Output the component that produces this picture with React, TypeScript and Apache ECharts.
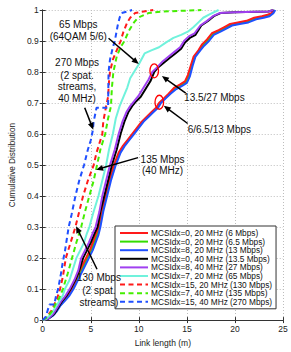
import React, { useEffect, useRef } from "react";
import * as echarts from "echarts";

// ---- Data (link length in m, cumulative distribution) ----
const mcs0_20_6: number[][] = [[0,0],[0.5,0.005],[1.0,0.015],[1.4,0.03],[1.7,0.045],[2.2,0.065],[2.6,0.08],[3.0,0.1],[3.4,0.125],[3.7,0.15],[4.1,0.175],[4.5,0.2],[4.9,0.225],[5.2,0.25],[5.5,0.275],[5.8,0.3],[6.1,0.35],[6.5,0.4],[6.9,0.45],[7.4,0.5],[7.9,0.54],[8.3,0.56],[8.8,0.58],[9.3,0.6],[9.8,0.62],[10.3,0.64],[10.8,0.655],[11.3,0.67],[11.8,0.685],[12.1,0.7],[12.6,0.715],[13.1,0.73],[13.7,0.75],[14.3,0.76],[14.8,0.77],[15.1,0.79],[15.4,0.82],[15.7,0.85],[16.2,0.87],[16.6,0.89],[17.1,0.905],[17.6,0.925],[18.3,0.935],[18.9,0.945],[19.5,0.955],[20.3,0.96],[21.2,0.965],[22,0.975],[22.8,0.98],[23.4,0.985],[23.8,0.99],[24,1]];
const mcs0_20_65: number[][] = [[0,0],[0.55,0.005],[1.05,0.015],[1.45,0.03],[1.75,0.045],[2.3,0.065],[2.7,0.08],[3.1,0.1],[3.5,0.125],[3.85,0.15],[4.25,0.175],[4.65,0.2],[5.05,0.225],[5.35,0.25],[5.65,0.275],[5.9,0.3],[6.2,0.35],[6.6,0.4],[7.0,0.45],[7.5,0.5],[8.0,0.54],[8.4,0.56],[8.9,0.58],[9.4,0.6],[9.9,0.62],[10.4,0.64],[10.9,0.655],[11.4,0.67],[11.9,0.685],[12.2,0.7],[12.7,0.715],[13.2,0.73],[13.8,0.748],[14.4,0.758],[14.9,0.768],[15.2,0.788],[15.5,0.82],[15.8,0.85],[16.3,0.87],[16.7,0.888],[17.2,0.903],[17.7,0.922],[18.4,0.932],[19.0,0.943],[19.6,0.953],[20.4,0.958],[21.3,0.963],[22.1,0.972],[22.9,0.978],[23.5,0.983],[23.9,0.99],[24.1,1]];
const mcs8_20_13: number[][] = [[0,0],[0.6,0.005],[1.1,0.015],[1.5,0.03],[1.8,0.045],[2.4,0.065],[2.8,0.08],[3.2,0.1],[3.6,0.125],[4.0,0.15],[4.4,0.175],[4.8,0.2],[5.2,0.225],[5.5,0.25],[5.8,0.275],[6.0,0.3],[6.3,0.35],[6.7,0.4],[7.1,0.45],[7.6,0.5],[8.1,0.54],[8.5,0.56],[9.0,0.58],[9.5,0.6],[10.0,0.62],[10.5,0.64],[11.0,0.655],[11.5,0.67],[12.0,0.685],[12.3,0.7],[12.8,0.715],[13.3,0.73],[13.9,0.745],[14.5,0.755],[15.0,0.765],[15.3,0.785],[15.6,0.82],[15.9,0.85],[16.4,0.87],[16.8,0.885],[17.3,0.9],[17.8,0.92],[18.5,0.93],[19.1,0.94],[19.7,0.95],[20.5,0.955],[21.4,0.96],[22.2,0.97],[23.0,0.975],[23.6,0.98],[24.0,0.99],[24.2,1]];
const mcs0_40_135: number[][] = [[0,0],[0.6,0.005],[1.2,0.02],[1.6,0.04],[2.0,0.06],[2.5,0.08],[2.9,0.1],[3.4,0.13],[3.8,0.16],[4.2,0.2],[4.6,0.225],[5.0,0.25],[5.4,0.28],[5.7,0.3],[6.0,0.35],[6.4,0.4],[6.8,0.45],[7.2,0.5],[7.7,0.55],[8.1,0.6],[8.5,0.64],[8.9,0.67],[9.3,0.69],[9.7,0.705],[10.2,0.72],[10.7,0.745],[11.2,0.77],[11.6,0.8],[12.0,0.815],[12.6,0.83],[13.2,0.845],[13.8,0.86],[14.4,0.875],[14.8,0.895],[15.3,0.91],[15.9,0.92],[16.5,0.95],[17.2,0.965],[17.8,0.98],[18.5,0.99],[20,0.993],[23.5,0.995],[24,1]];
const mcs8_40_27: number[][] = [[0,0],[0.6,0.005],[1.1,0.02],[1.5,0.04],[1.9,0.06],[2.4,0.08],[2.8,0.1],[3.3,0.13],[3.7,0.16],[4.0,0.2],[4.4,0.225],[4.8,0.25],[5.2,0.28],[5.5,0.3],[5.9,0.35],[6.2,0.4],[6.6,0.45],[7.0,0.5],[7.5,0.55],[7.9,0.6],[8.3,0.64],[8.7,0.67],[9.1,0.69],[9.5,0.705],[10.0,0.725],[10.5,0.75],[11.0,0.775],[11.4,0.8],[11.9,0.815],[12.5,0.835],[13.1,0.85],[13.7,0.865],[14.3,0.88],[14.7,0.9],[15.2,0.915],[15.8,0.925],[16.4,0.95],[17.1,0.965],[17.7,0.98],[18.4,0.99],[20,0.993],[23.5,0.995],[24,1]];
const mcs7_20_65: number[][] = [[0,0],[0.4,0.005],[0.9,0.02],[1.3,0.04],[1.7,0.06],[2.1,0.08],[2.3,0.1],[2.8,0.13],[3.1,0.16],[3.5,0.2],[3.9,0.225],[4.3,0.25],[4.6,0.28],[4.85,0.3],[5.3,0.35],[5.8,0.4],[6.2,0.45],[6.6,0.5],[6.9,0.55],[7.3,0.6],[7.6,0.65],[8.0,0.69],[8.4,0.72],[8.8,0.75],[9.1,0.78],[9.5,0.8],[10.0,0.825],[10.6,0.86],[11.3,0.87],[12.1,0.88],[12.8,0.895],[13.6,0.91],[14.4,0.92],[15.1,0.93],[15.7,0.945],[16.2,0.96],[16.7,0.975],[17.3,0.985],[18.3,1]];
const mcs15_20_130: number[][] = [[0,0],[0.4,0.01],[0.9,0.03],[1.2,0.05],[1.5,0.07],[1.8,0.1],[2.1,0.14],[2.4,0.2],[2.8,0.24],[3.1,0.27],[3.4,0.3],[3.8,0.35],[4.2,0.4],[4.7,0.45],[5.3,0.5],[5.6,0.54],[5.9,0.57],[6.2,0.6],[6.3,0.64],[6.6,0.69],[6.8,0.72],[6.9,0.77],[7.0,0.8],[7.3,0.84],[7.7,0.87],[8.1,0.9],[8.4,0.93],[8.8,0.96],[9.1,0.975],[9.6,0.99],[10.5,0.995],[11.5,1]];
const mcs7_40_135: number[][] = [[0,0],[0.5,0.01],[1.0,0.03],[1.3,0.05],[1.7,0.07],[2.1,0.1],[2.6,0.15],[3.05,0.2],[3.5,0.25],[4.0,0.3],[4.4,0.35],[4.85,0.4],[5.3,0.45],[5.65,0.5],[6.0,0.55],[6.5,0.6],[6.8,0.65],[7.1,0.69],[7.2,0.75],[7.35,0.8],[7.7,0.85],[8.1,0.88],[8.5,0.9],[9.0,0.935],[9.5,0.96],[9.9,0.975],[11,0.99],[12.5,0.995],[16.5,1]];
const mcs15_40_270: number[][] = [[0,0],[0.3,0.01],[0.6,0.04],[0.7,0.05],[1.2,0.05],[1.4,0.08],[1.6,0.1],[1.9,0.15],[2.1,0.19],[2.3,0.22],[2.5,0.26],[2.7,0.3],[3.0,0.34],[3.4,0.4],[3.8,0.45],[4.3,0.5],[4.7,0.55],[5.0,0.58],[5.2,0.61],[5.3,0.64],[5.6,0.685],[6.8,0.685],[6.85,0.8],[7.0,0.84],[7.3,0.88],[7.5,0.9],[7.8,0.95],[8.0,0.975],[8.2,0.99],[9.3,1]];

const seriesNames = [
  "MCSIdx=0, 20 MHz (6 Mbps)",
  "MCSIdx=0, 20 MHz (6.5 Mbps)",
  "MCSIdx=8, 20 MHz (13 Mbps)",
  "MCSIdx=0, 40 MHz (13.5 Mbps)",
  "MCSIdx=8, 40 MHz (27 Mbps)",
  "MCSIdx=7, 20 MHz (65 Mbps)",
  "MCSIdx=15, 20 MHz (130 Mbps)",
  "MCSIdx=7, 40 MHz (135 Mbps)",
  "MCSIdx=15, 40 MHz (270 Mbps)",
];
const seriesData = [mcs0_20_6, mcs0_20_65, mcs8_20_13, mcs0_40_135, mcs8_40_27, mcs7_20_65, mcs15_20_130, mcs7_40_135, mcs15_40_270];
const seriesColors = ["#ff1a1a", "#33dd00", "#1f4fff", "#000000", "#a040f0", "#70f2dc", "#ff1a1a", "#44ee00", "#1f4fff"];
const seriesDashed = [false, false, false, false, false, false, true, true, true];
const seriesZ = [3, 2, 3, 3, 3, 3, 3, 3, 3];

// annotations (data coordinates)
const annoTexts: { t: string; p: number[] }[] = [
  { t: "65 Mbps", p: [3.7, 0.953] },
  { t: "(64QAM 5/6)", p: [3.7, 0.915] },
  { t: "270 Mbps", p: [3.57, 0.83] },
  { t: "(2 spat.", p: [3.57, 0.789] },
  { t: "streams,", p: [3.57, 0.752] },
  { t: "40 MHz)", p: [3.57, 0.716] },
  { t: "13.5/27 Mbps", p: [17.86, 0.719] },
  { t: "6/6.5/13 Mbps", p: [18.38, 0.616] },
  { t: "135 Mbps", p: [12.47, 0.518] },
  { t: "(40 MHz)", p: [12.47, 0.484] },
  { t: "130 Mbps", p: [5.85, 0.136] },
  { t: "(2 spat.", p: [5.85, 0.095] },
  { t: "streams)", p: [5.85, 0.058] },
];
const annoArrows: { from: number[]; to: number[] }[] = [
  { from: [6.85, 0.909], to: [9.99, 0.826] },
  { from: [4.37, 0.685], to: [5.26, 0.614] },
  { from: [14.88, 0.732], to: [12.4, 0.787] },
  { from: [15.08, 0.634], to: [12.6, 0.691] },
  { from: [9.92, 0.524], to: [5.56, 0.485] },
  { from: [5.65, 0.164], to: [3.47, 0.303] },
];
const annoEllipses: number[][] = [[11.6, 0.804], [12.13, 0.7025]];

const FONT = "'Liberation Sans', Arial, Helvetica, sans-serif";

export default function App() {
  const ref = useRef<HTMLDivElement>(null);
  useEffect(() => {
    const chart = echarts.init(ref.current!, null, { renderer: "svg" });
    const option: any = {
      animation: false,
      backgroundColor: "#ffffff",
      textStyle: { fontFamily: FONT },
      grid: { left: 31, right: 8, top: 10, bottom: 25, containLabel: false },
      legend: {
        orient: "vertical",
        left: 115,
        top: 226,
        padding: [3, 4, 3, 4],
        itemWidth: 28,
        itemHeight: 10,
        itemGap: 0.6,
        backgroundColor: "#ffffff",
        borderColor: "#333333",
        borderWidth: 1,
        borderRadius: 0,
        itemStyle: { opacity: 0, borderWidth: 0 },
        textStyle: { fontSize: 8.3, color: "#111", fontFamily: FONT, padding: [0, 0, 0, -2] },
        data: seriesNames,
        z: 10,
      },
      xAxis: [
        {
          type: "value", min: 0, max: 25, interval: 5,
          name: "Link length (m)", nameLocation: "middle", nameGap: 14,
          nameTextStyle: { fontSize: 8.5, color: "#222", fontFamily: FONT },
          axisLine: { show: true, lineStyle: { color: "#333", width: 1 } },
          axisTick: { inside: true, length: 3, lineStyle: { color: "#333" } },
          axisLabel: { fontSize: 8.5, color: "#222", margin: 4, fontFamily: FONT },
          splitLine: { show: true, lineStyle: { color: "#bdbdbd", type: [1, 2], width: 1 } },
        },
        {
          type: "value", min: 0, max: 25, interval: 5, position: "top",
          axisLine: { show: true, lineStyle: { color: "#333", width: 1 } },
          axisTick: { inside: true, length: 3, lineStyle: { color: "#333" } },
          axisLabel: { show: false }, splitLine: { show: false },
        },
      ],
      yAxis: [
        {
          type: "value", min: 0, max: 1, interval: 0.1,
          name: "Cumulative Distribution", nameLocation: "middle", nameGap: 19,
          nameTextStyle: { fontSize: 8.2, color: "#222", fontFamily: FONT },
          axisLine: { show: true, lineStyle: { color: "#333", width: 1 } },
          axisTick: { inside: true, length: 3, lineStyle: { color: "#333" } },
          axisLabel: { fontSize: 8.5, color: "#222", margin: 4, fontFamily: FONT },
          splitLine: { show: true, lineStyle: { color: "#bdbdbd", type: [1, 2], width: 1 } },
        },
        {
          type: "value", min: 0, max: 1, interval: 0.1, position: "right",
          axisLine: { show: true, lineStyle: { color: "#333", width: 1 } },
          axisTick: { inside: true, length: 3, lineStyle: { color: "#333" } },
          axisLabel: { show: false }, splitLine: { show: false },
        },
      ],
      series: seriesNames.map((name, i) => ({
        name,
        type: "line",
        xAxisIndex: 0,
        yAxisIndex: 0,
        data: seriesData[i],
        symbol: "none",
        showSymbol: false,
        z: seriesZ[i],
        color: seriesColors[i],
        lineStyle: {
          color: seriesColors[i],
          width: 2,
          type: seriesDashed[i] ? [5, 3.5] : "solid",
        },
        emphasis: { disabled: true },
      })),
    };
    chart.setOption(option);

    const toPx = (p: number[]) => chart.convertToPixel({ xAxisIndex: 0, yAxisIndex: 0 }, p) as number[];
    const graphics: any[] = [];
    annoTexts.forEach((a) => {
      const [x, y] = toPx(a.p);
      graphics.push({
        type: "text", x, y, z: 50,
        style: { text: a.t, fill: "#111", fontSize: 10, fontFamily: FONT, align: "center", verticalAlign: "middle" },
      });
    });
    annoArrows.forEach((a) => {
      const [x1, y1] = toPx(a.from);
      const [x2, y2] = toPx(a.to);
      const dx = x2 - x1, dy = y2 - y1;
      const len = Math.sqrt(dx * dx + dy * dy);
      const ux = dx / len, uy = dy / len;
      const nx = -uy, ny = ux;
      const hl = 7, hw = 3;
      const bx = x2 - ux * hl, by = y2 - uy * hl;
      graphics.push({
        type: "line", z: 50,
        shape: { x1, y1, x2: bx + ux * 1, y2: by + uy * 1 },
        style: { stroke: "#000", lineWidth: 1.5 },
      });
      graphics.push({
        type: "polygon", z: 50,
        shape: { points: [[x2, y2], [bx + nx * hw, by + ny * hw], [bx - nx * hw, by - ny * hw]] },
        style: { fill: "#000" },
      });
    });
    annoEllipses.forEach((p) => {
      const [cx, cy] = toPx(p);
      graphics.push({
        type: "ellipse", z: 50,
        shape: { cx, cy, rx: 4.3, ry: 7 },
        style: { stroke: "#ff0000", fill: "none", lineWidth: 1.3 },
      });
    });
    chart.setOption({ graphic: graphics });
    return () => chart.dispose();
  }, []);
  return <div ref={ref} style={{ position: "fixed", left: 0, top: 0, width: 291, height: 352 }} />;
}
